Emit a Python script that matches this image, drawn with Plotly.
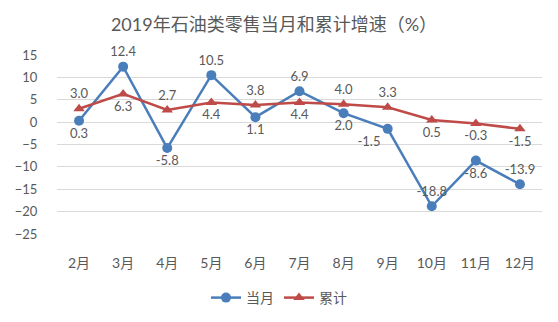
import plotly.graph_objects as go

months = ["2月", "3月", "4月", "5月", "6月", "7月", "8月", "9月", "10月", "11月", "12月"]
monthly = [0.3, 12.4, -5.8, 10.5, 1.1, 6.9, 2.0, -1.5, -18.8, -8.6, -13.9]
cumulative = [3.0, 6.3, 2.7, 4.4, 3.8, 4.4, 4.0, 3.3, 0.5, -0.3, -1.5]
y_ticks = [15, 10, 5, 0, -5, -10, -15, -20, -25]

monthly_pos = ["bottom center", "top center", "bottom center", "top center", "bottom center",
               "top center", "bottom center", "bottom left", "top center", "bottom center", "top center"]
cumulative_pos = ["top center", "bottom center", "top center", "bottom center", "top center",
                  "bottom center", "top center", "top center", "bottom center", "bottom center", "bottom center"]

FONT = "Lato, 'Noto Sans CJK SC', sans-serif"
GREY = "#595959"
BLUE = "#4A7EBB"
RED = "#BE4B48"

fig = go.Figure()
fig.add_trace(go.Scatter(
    x=months, y=monthly, name="当月", mode="lines+markers+text",
    line=dict(color=BLUE, width=2.5),
    marker=dict(symbol="circle", size=10, color=BLUE),
    texttemplate="%{y:.1f}", textposition=monthly_pos,
    textfont=dict(family=FONT, size=13, color=GREY),
    cliponaxis=False,
))
fig.add_trace(go.Scatter(
    x=months, y=cumulative, name="累计", mode="lines+markers+text",
    line=dict(color=RED, width=2.5),
    marker=dict(symbol="triangle-up", size=10, color=RED),
    texttemplate="%{y:.1f}", textposition=cumulative_pos,
    textfont=dict(family=FONT, size=13, color=GREY),
    cliponaxis=False,
))

fig.update_layout(
    width=558, height=322,
    margin=dict(l=57, r=16, t=55, b=88),
    paper_bgcolor="white", plot_bgcolor="white",
    font=dict(family=FONT, color=GREY),
    title=dict(text="2019年石油类零售当月和累计增速（%）",
               font=dict(family=FONT, size=18, color=GREY),
               xref="container", yref="container",
               x=274 / 558, y=1 - 25 / 322, xanchor="center", yanchor="middle"),
    showlegend=True,
    legend=dict(orientation="h", xref="container", x=0.5, xanchor="center",
                yref="container", y=1 - 298 / 322, yanchor="middle",
                font=dict(family=FONT, size=14, color=GREY),
                itemwidth=30, traceorder="normal"),
)
fig.update_xaxes(
    type="category", range=[-0.5, len(months) - 0.5],
    showgrid=False, showline=False, zeroline=False,
    ticks="outside", ticklen=16, tickcolor="rgba(0,0,0,0)",
    tickfont=dict(family=FONT, size=14, color=GREY),
)
fig.update_yaxes(
    range=[-25, 15], tickvals=y_ticks,
    showgrid=True, gridcolor="#D9D9D9", gridwidth=1,
    zeroline=False, showline=False,
    ticks="outside", ticklen=16, tickcolor="rgba(0,0,0,0)",
    tickfont=dict(family=FONT, size=13, color=GREY),
)

fig.write_html("out.html")
